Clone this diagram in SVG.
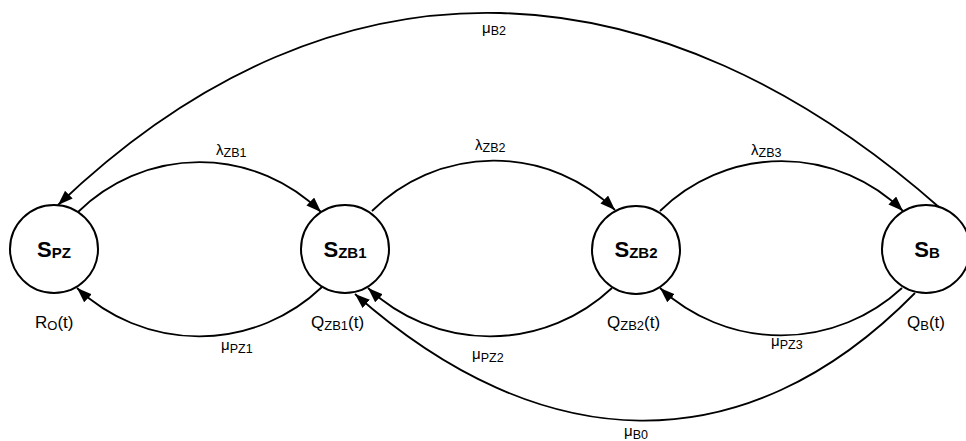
<svg xmlns="http://www.w3.org/2000/svg" width="966" height="441" viewBox="0 0 966 441">
<style>
.node{fill:#fff;stroke:#000;stroke-width:2}
.edge{fill:none;stroke:#000;stroke-width:1.8;marker-end:url(#arr)}
.nl{font-family:"Liberation Sans",Arial,sans-serif;font-weight:bold;font-size:22px;fill:#000;text-anchor:middle}
.nl .s{font-size:15px}
.el{font-family:"Liberation Sans",Arial,sans-serif;font-size:15px;fill:#000}
.el .s{font-size:12.5px}
.sl{font-family:"Liberation Sans",Arial,sans-serif;font-size:17px;fill:#000}
.sl .s{font-size:13px}
</style>
<defs>
<marker id="arr" markerUnits="userSpaceOnUse" markerWidth="16" markerHeight="12" refX="15" refY="5.5" orient="auto">
<path d="M0,0 L15,5.5 L0,11 z" fill="#000"/>
</marker>
</defs>
<rect width="966" height="441" fill="#fff"/>
<g id="connectors">
<path class="edge" d="M78,212 A173,173 0 0 1 321,212"/>
<path class="edge" d="M372,211 A173,173 0 0 1 615,210"/>
<path class="edge" d="M660,211 A173,173 0 0 1 903,211"/>
<path class="edge" d="M322,287 A178,178 0 0 1 77,288"/>
<path class="edge" d="M612,288 A178,178 0 0 1 368,288"/>
<path class="edge" d="M902,288 A178,178 0 0 1 660,288"/>
<path class="edge" d="M915,293 C743,468 540,458 355,294"/>
<path class="edge" d="M940,208 C661,-38 340,-65 58,205"/>
<text class="el" x="216" y="155">λ<tspan class="s" dy="2">ZB1</tspan></text>
<text class="el" x="475" y="150">λ<tspan class="s" dy="2">ZB2</tspan></text>
<text class="el" x="751" y="155">λ<tspan class="s" dy="2">ZB3</tspan></text>
<text class="el" x="221" y="350">μ<tspan class="s" dy="3">PZ1</tspan></text>
<text class="el" x="472" y="359">μ<tspan class="s" dy="3">PZ2</tspan></text>
<text class="el" x="771" y="346">μ<tspan class="s" dy="3">PZ3</tspan></text>
<text class="el" x="624" y="436">μ<tspan class="s" dy="3">B0</tspan></text>
<text class="el" x="482" y="33">μ<tspan class="s" dy="2">B2</tspan></text>
</g>
<g id="n_spz">
<circle class="node" cx="54" cy="249" r="44"/>
<text class="nl" x="54" y="257">S<tspan class="s" dy="1">PZ</tspan></text>
<text class="sl" x="35" y="328">R<tspan class="s" dy="2">O</tspan><tspan dy="-2">(t)</tspan></text>
</g>
<g id="n_szb1">
<circle class="node" cx="345" cy="249" r="44"/>
<text class="nl" x="345" y="257">S<tspan class="s" dy="1">ZB1</tspan></text>
<text class="sl" x="311" y="328">Q<tspan class="s" dy="2">ZB1</tspan><tspan dy="-2">(t)</tspan></text>
</g>
<g id="n_szb2">
<circle class="node" cx="636" cy="250" r="44"/>
<text class="nl" x="636" y="257">S<tspan class="s" dy="1">ZB2</tspan></text>
<text class="sl" x="607" y="328">Q<tspan class="s" dy="2">ZB2</tspan><tspan dy="-2">(t)</tspan></text>
</g>
<g id="n_sb">
<circle class="node" cx="926" cy="249" r="44"/>
<text class="nl" x="927" y="257">S<tspan class="s" dy="1">B</tspan></text>
<text class="sl" x="907" y="328">Q<tspan class="s" dy="2">B</tspan><tspan dy="-2">(t)</tspan></text>
</g>
</svg>
